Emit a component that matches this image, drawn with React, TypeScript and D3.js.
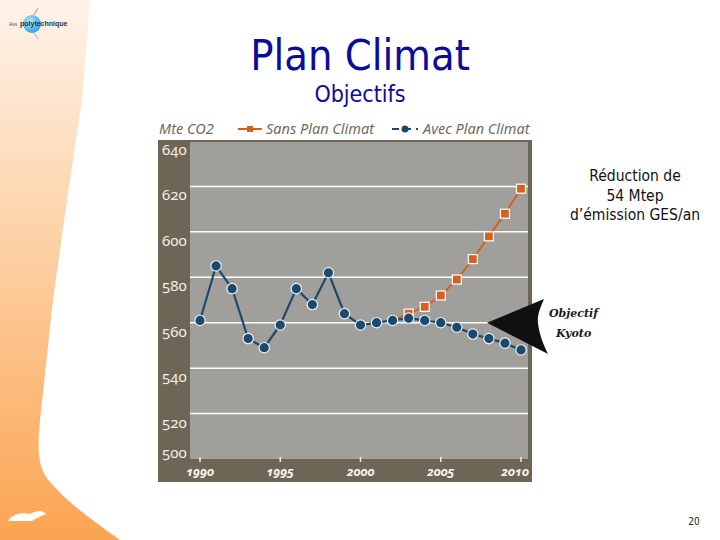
import React from 'react';
import * as d3 from 'd3';

// Emissions, Mte CO2
const years = d3.range(1990, 2011);
const avecPlan = [561, 585, 575, 553, 549, 559, 575, 568, 582, 564, 559, 560, 561, 562, 561, 560, 558, 555, 553, 551, 548];
const sansYears = [2002, 2003, 2004, 2005, 2006, 2007, 2008, 2009, 2010];
const sansPlan = [561, 564, 567, 572, 579, 588, 598, 608, 619];
const yTicks = [500, 520, 540, 560, 580, 600, 620, 640];
const xTicks = [1990, 1995, 2000, 2005, 2010];
const noteLines = ['Réduction de', '54 Mtep', 'd’émission GES/an'];

const W = 720;
const H = 540;

// frame of the pasted chart picture
const frame = { left: 158, top: 140, right: 532, bottom: 482 };
const plot = { left: 190, top: 141, right: 528, bottom: 459 };

const NAVY = '#1d4a6c';
const ORANGE = '#d4621c';
const BAND = '#6d6656';
const GRAY = '#a09f9c';

export default function App() {
  const x = d3.scaleLinear().domain([1990, 2010]).range([200, 521]);
  const y = d3.scaleLinear().domain([500, 640]).range([plot.bottom, plot.top]);

  const avecData = years.map((yr, i) => ({ yr, v: avecPlan[i] }));
  const sansData = sansYears.map((yr, i) => ({ yr, v: sansPlan[i] }));

  const line = d3.line<{ yr: number; v: number }>()
    .x(d => x(d.yr))
    .y(d => y(d.v));

  // white curved panel edge over the orange strip
  const edge = 'M90,0 L720,0 L720,540 L120,540 C95,522 70,505 50,482 C38,468 37,452 40,420 L53,300 L67,200 L82,100 Z';

  const tipX = 487;

  return (
    <svg width={W} height={H} style={{ position: 'absolute', left: 0, top: 0 }}>
      <defs>
        <linearGradient id="orangeStrip" x1="0" y1="0" x2="0" y2="1">
          <stop offset="0" stopColor="#fef3ea" />
          <stop offset="0.35" stopColor="#fdd9b4" />
          <stop offset="1" stopColor="#fba451" />
        </linearGradient>
        <radialGradient id="globe" cx="0.4" cy="0.35" r="0.7">
          <stop offset="0" stopColor="#b7e6fb" />
          <stop offset="1" stopColor="#2a9ee0" />
        </radialGradient>
      </defs>

      <rect x={0} y={0} width={W} height={H} fill="url(#orangeStrip)" />
      <path d={edge} fill="#ffffff" />

      {/* top-left logo */}
      <line x1={34} y1={33} x2={38} y2={39} stroke="#888" strokeWidth={0.6} />
      <line x1={34} y1={15} x2={38} y2={8} stroke="#e08b3a" strokeWidth={1} />
      <circle cx={32} cy={24} r={9} fill="url(#globe)" />
      <text x={9} y={26} fontSize={5} fill="#555" fontFamily="Liberation Sans">Ass</text>
      <text x={20} y={26} fontSize={7} fill="#234" fontFamily="Liberation Sans" fontWeight="bold">polytechnique</text>

      {/* bottom-left logo */}
      <path d="M8,521 C12,514 22,512 30,514 C36,511 42,509 46,514 C40,516 36,519 32,521 Z" fill="#ffffff" />

      {/* titles */}
      <text x={360} y={70} textAnchor="middle" fontSize={43} fill="#0c0c9a"
        fontFamily="'DejaVu Sans Condensed', 'Liberation Sans', sans-serif">Plan Climat</text>
      <text x={360} y={102} textAnchor="middle" fontSize={23} fill="#0c0c9a"
        fontFamily="'DejaVu Sans Condensed', 'Liberation Sans', sans-serif">Objectifs</text>

      {/* legend */}
      <g fontFamily="'Noto Sans', sans-serif" fontStyle="italic" fontSize={14.5} fill="#6f6a60">
        <text x={159} y={134}>Mte CO2</text>
        <line x1={238} y1={129} x2={262} y2={129} stroke={ORANGE} strokeWidth={2} />
        <rect x={247} y={126} width={6} height={6} fill={ORANGE} />
        <text x={266} y={134}>Sans Plan Climat</text>
        <line x1={392} y1={129} x2={418} y2={129} stroke={NAVY} strokeWidth={2} strokeDasharray="7,5" />
        <circle cx={405} cy={129} r={3.5} fill={NAVY} />
        <text x={423} y={134}>Avec Plan Climat</text>
      </g>

      {/* chart frame */}
      <rect x={frame.left} y={frame.top} width={frame.right - frame.left} height={frame.bottom - frame.top} fill={BAND} />
      <rect x={plot.left} y={plot.top + 1} width={plot.right - plot.left} height={plot.bottom - plot.top - 1} fill={GRAY} />

      {yTicks.slice(1, -1).map(t => (
        <line key={t} x1={plot.left} x2={plot.right} y1={y(t)} y2={y(t)} stroke="#ffffff" strokeWidth={1.5} />
      ))}

      <g fontFamily="'Noto Sans', sans-serif" fontSize={15} fill="#f3eee2" style={{ fontVariantNumeric: 'oldstyle-nums' }}>
        {yTicks.map(t => (
          <text key={t} x={162} y={t === 500 ? y(t) - 1 : y(t) + 14}>{t}</text>
        ))}
      </g>

      {xTicks.map(t => (
        <line key={t} x1={x(t)} x2={x(t)} y1={plot.bottom - 2} y2={plot.bottom + 3} stroke="#f3eee2" strokeWidth={1.5} />
      ))}
      <g fontFamily="'Noto Sans', sans-serif" fontSize={12.5} fontStyle="italic" fontWeight="bold" fill="#f7f3ea"
        style={{ fontVariantNumeric: 'oldstyle-nums' }}>
        {xTicks.map(t => (
          <text key={t} x={Math.min(x(t), frame.right - 17)} y={476} textAnchor="middle">{t}</text>
        ))}
      </g>

      {/* Sans Plan Climat */}
      <path d={line(sansData) ?? ''} fill="none" stroke={ORANGE} strokeWidth={2} />
      {sansData.slice(1).map(d => (
        <rect key={d.yr} x={x(d.yr) - 4.5} y={y(d.v) - 4.5} width={9} height={9}
          fill={ORANGE} stroke="#ffffff" strokeWidth={1.2} />
      ))}

      {/* Avec Plan Climat */}
      <path d={line(avecData) ?? ''} fill="none" stroke={NAVY} strokeWidth={2.2} />
      {avecData.map(d => (
        <circle key={d.yr} cx={x(d.yr)} cy={y(d.v)} r={5.2} fill={NAVY} stroke="#e8f2f8" strokeWidth={1.2} />
      ))}

      {/* Objectif Kyoto arrow */}
      <path d={`M${tipX},${y(560)} L544,299 C540,308 537,316 538,323 C539,333 543,344 548,354 Z`} fill="#111111" />
      <g fontFamily="'DejaVu Serif', serif" fontStyle="italic" fontWeight="bold" fontSize={11} fill="#1a1a1a">
        <text x={549} y={317}>Objectif</text>
        <text x={556} y={337}>Kyoto</text>
      </g>

      {/* note */}
      <g fontFamily="'DejaVu Sans Condensed', 'Liberation Sans', sans-serif" fontSize={15.5} fill="#111111" textAnchor="middle">
        {noteLines.map((t, i) => (
          <text key={t} x={635} y={181 + i * 19.5}>{t}</text>
        ))}
      </g>

      <text x={694} y={525} fontSize={10} textAnchor="middle" fill="#222"
        fontFamily="'DejaVu Sans Condensed', sans-serif">20</text>
    </svg>
  );
}
